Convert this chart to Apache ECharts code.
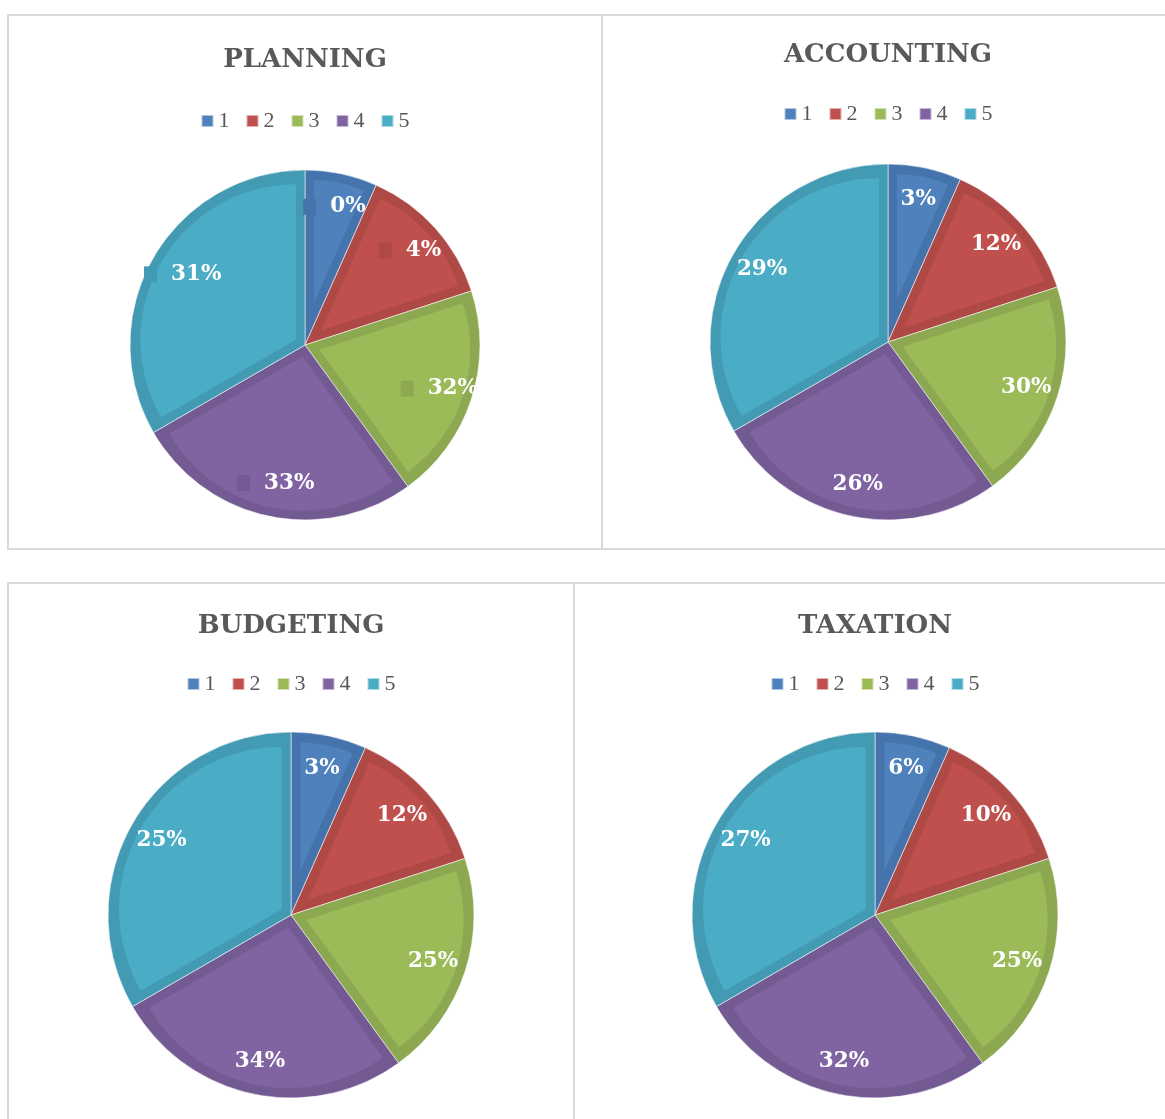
<!DOCTYPE html>
<html>
<head>
<meta charset="utf-8">
<title>Pie charts</title>
<script src="https://cdn.jsdelivr.net/npm/echarts@6/dist/echarts.min.js"></script>
<style>
    html, body { margin: 0; padding: 0; background: #fff; width: 1165px; height: 1119px; overflow: hidden; }
    .panel { position: absolute; border: 2px solid #d9d9d9; }
</style>
</head>
<body>
<div id="planning" class="panel" style="left:7px;top:14px;width:592px;height:532px;"></div>
<div id="accounting" class="panel" style="left:601px;top:14px;width:570px;height:532px;"></div>
<div id="budgeting" class="panel" style="left:7px;top:582px;width:564px;height:560px;"></div>
<div id="taxation" class="panel" style="left:573px;top:582px;width:600px;height:560px;"></div>
<script>
// categories 1..5; the slices are drawn from the category numbers, labels show the percentages
var categories = ['1', '2', '3', '4', '5'];
var sliceValues = [1, 2, 3, 4, 5];
var planningPct = [0, 4, 32, 33, 31];
var accountingPct = [3, 12, 30, 26, 29];
var budgetingPct = [3, 12, 25, 34, 25];
var taxationPct = [6, 10, 25, 32, 27];

var faceColors = ['#4f81bd', '#c0504d', '#9bbb59', '#8064a2', '#4bacc6'];
var edgeColors = ['#4573ab', '#ae4946', '#8ca851', '#735a93', '#439ab3'];

var chart = {};

/**
 * 生成图表
 */
chart.initChart = function (areaid, option) {
    var myChart = echarts.init(document.getElementById(areaid));
    myChart.setOption(option);
    return myChart;
};

// one inner "face" per slice, pushed out along its bisector so the dark edge keeps a constant width
function faceSeries(k, cfg) {
    var total = sliceValues.reduce(function (a, b) { return a + b; }, 0);
    var theta = sliceValues[k] / total * Math.PI * 2;
    var off = cfg.edge / Math.sin(theta / 2);
    return {
        type: 'pie',
        silent: true,
        center: ['50%', cfg.cy],
        radius: cfg.r - cfg.edge - off,
        selectedMode: 'multiple',
        selectedOffset: off,
        label: { show: false },
        labelLine: { show: false },
        emphasis: { disabled: true },
        data: categories.map(function (name, i) {
            var c = i === k ? faceColors[i] : 'rgba(0,0,0,0)';
            return {
                name: name,
                value: sliceValues[i],
                selected: i === k,
                itemStyle: { color: c, borderWidth: 0 },
                select: { itemStyle: { color: c, borderWidth: 0 } }
            };
        })
    };
}

function buildOption(cfg) {
    var series = [{
        type: 'pie',
        silent: true,
        center: ['50%', cfg.cy],
        radius: cfg.r,
        label: { show: false },
        labelLine: { show: false },
        emphasis: { disabled: true },
        itemStyle: { borderColor: 'rgba(255,255,255,0.55)', borderWidth: 1 },
        data: categories.map(function (name, i) {
            return { name: name, value: sliceValues[i], itemStyle: { color: edgeColors[i] } };
        })
    }];
    for (var k = 0; k < categories.length; k++) {
        series.push(faceSeries(k, cfg));
    }
    series.push({
        type: 'pie',
        silent: true,
        z: 5,
        center: ['50%', cfg.cy],
        radius: [cfg.r * cfg.labelIn, cfg.r],
        labelLine: { show: false },
        emphasis: { disabled: true },
        itemStyle: { color: 'rgba(0,0,0,0)', borderWidth: 0 },
        label: {
            show: true,
            position: 'inside',
            formatter: function (p) {
                var txt = cfg.pct[p.dataIndex] + '%';
                return cfg.key ? '{k' + p.dataIndex + '|}{v|' + txt + '}' : '{v|' + txt + '}';
            },
            rich: (function () {
                var rich = {
                    v: {
                        color: '#fff', fontFamily: 'DejaVu Serif', fontWeight: 'bold',
                        fontSize: cfg.labelSize, padding: cfg.key ? [0, 0, 0, 14] : 0
                    }
                };
                edgeColors.forEach(function (c, i) {
                    rich['k' + i] = { width: 13, height: 13, backgroundColor: c, padding: [0, 0, 3, 0] };
                });
                return rich;
            })(),
            textBorderWidth: 0
        },
        data: categories.map(function (name, i) {
            return { name: name, value: sliceValues[i] };
        })
    });

    return {
        animation: false,
        title: {
            text: cfg.title,
            left: 'center',
            top: cfg.titleTop,
            padding: 0,
            textStyle: { fontFamily: 'DejaVu Serif', fontWeight: 'bold', fontSize: 26, color: '#595959' }
        },
        legend: {
            left: 'center',
            top: cfg.legendTop,
            padding: 0,
            itemWidth: 12,
            itemHeight: 12,
            itemGap: 16,
            icon: 'rect',
            selectedMode: false,
            textStyle: { fontFamily: 'Liberation Serif', fontSize: 22, color: '#595959' },
            data: categories.map(function (name, i) {
                return { name: name, itemStyle: { color: faceColors[i] } };
            })
        },
        series: series
    };
}

chart.initChart('planning', buildOption({
    title: 'PLANNING', pct: planningPct, key: true,
    titleTop: 31, legendTop: 94, cy: 329, r: 175, edge: 9, labelSize: 21.5, labelIn: 0.58
}));
chart.initChart('accounting', buildOption({
    title: 'ACCOUNTING', pct: accountingPct, key: false,
    titleTop: 26, legendTop: 87, cy: 326, r: 178, edge: 9, labelSize: 21.5, labelIn: 0.6
}));
chart.initChart('budgeting', buildOption({
    title: 'BUDGETING', pct: budgetingPct, key: false,
    titleTop: 29, legendTop: 89, cy: 331, r: 183, edge: 9.5, labelSize: 21.5, labelIn: 0.6
}));
chart.initChart('taxation', buildOption({
    title: 'TAXATION', pct: taxationPct, key: false,
    titleTop: 29, legendTop: 89, cy: 331, r: 183, edge: 9.5, labelSize: 21.5, labelIn: 0.6
}));
</script>
</body>
</html>
